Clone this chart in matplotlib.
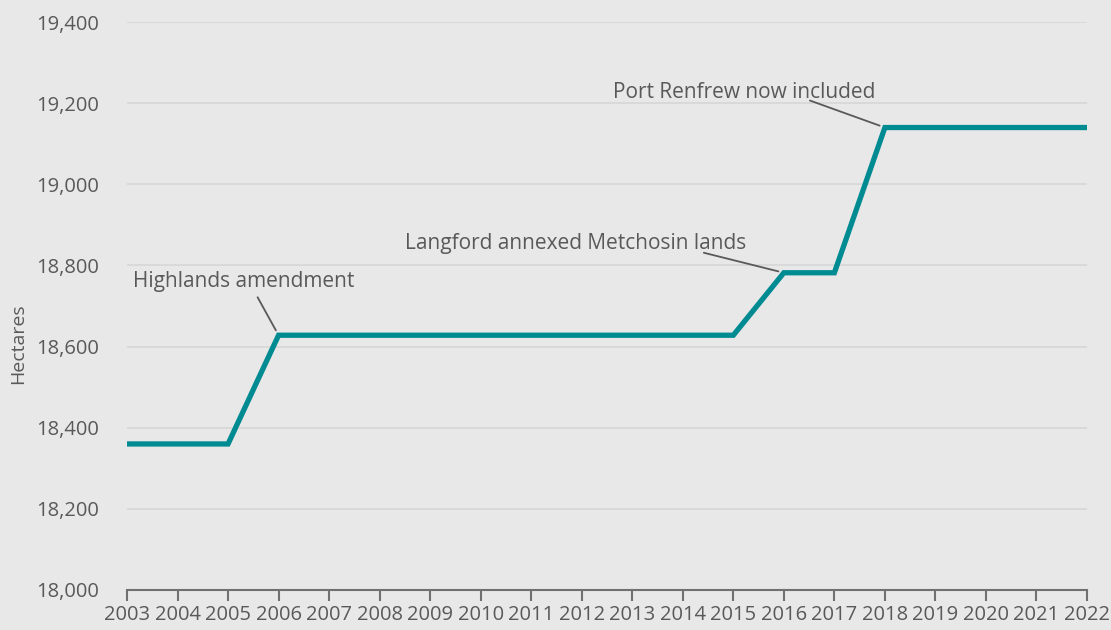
import numpy as np
import matplotlib
matplotlib.use("Agg")
import matplotlib.pyplot as plt

# Urban containment boundary area, hectares
years = list(range(2003, 2023))
hectares = [18360, 18360, 18360,
            18628, 18628, 18628, 18628, 18628, 18628, 18628, 18628, 18628, 18628,
            18782, 18782,
            19140, 19140, 19140, 19140, 19140]

notes = ["Highlands amendment", "Langford annexed Metchosin lands", "Port Renfrew now included"]
note_years = [2006, 2016, 2018]

bg = "#e8e8e8"
txt = "#595959"
teal = "#008a91"

plt.rcParams['font.family'] = ['Open Sans', 'DejaVu Sans']

fig = plt.figure(figsize=(11.11, 6.3), dpi=100, facecolor=bg)
ax = fig.add_axes([0.1143, 0.0635, 0.8641, 0.9015])
ax.set_facecolor(bg)

ax.plot(years, hectares, color=teal, lw=3.8, solid_joinstyle='miter', zorder=3)

ax.set_xlim(2003, 2022)
ax.set_ylim(18000, 19400)
ax.set_xticks(years)
ax.set_yticks(np.arange(18000, 19401, 200))
ax.yaxis.set_major_formatter(matplotlib.ticker.FuncFormatter(lambda v, p: f"{v:,.0f}"))
ax.grid(axis='y', color='#d6d6d6', lw=1.2)
ax.set_axisbelow(True)
for s in ['left', 'right', 'top']:
    ax.spines[s].set_visible(False)
ax.spines['bottom'].set_color('#707070')
ax.spines['bottom'].set_linewidth(1.5)
ax.tick_params(axis='x', length=8, width=1.5, color='#707070', labelsize=14.5, labelcolor=txt, pad=3)
ax.tick_params(axis='y', length=0, labelsize=14.5, labelcolor=txt, pad=20)

fig.text(0.016, 0.455, "Hectares", rotation=90, ha='center', va='center', fontsize=14, color=txt)

# annotations: offsets in pixels from the data point
text_off = [(-146, 48), (-379, 24), (-272, 30)]
line_off = [(-21, 38), (-80, 20), (-75, 27)]
for note, yr, toff, loff in zip(notes, note_years, text_off, line_off):
    y = hectares[years.index(yr)]
    ax.annotate(note, xy=(yr, y), xytext=toff, textcoords='offset pixels',
                fontsize=15, color=txt, ha='left', va='baseline')
    ax.annotate("", xy=(yr, y), xytext=loff, textcoords='offset pixels',
                arrowprops=dict(arrowstyle='-', color='#595959', lw=1.3, shrinkA=0, shrinkB=4))

fig.savefig("out.png", dpi=100, facecolor=bg)
